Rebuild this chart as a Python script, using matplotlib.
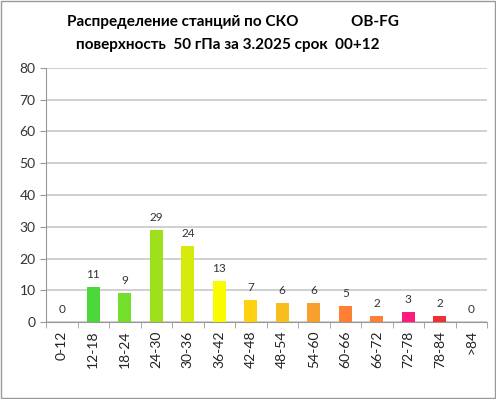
import matplotlib.pyplot as plt
import numpy as np

# DATA
categories = ["0-12", "12-18", "18-24", "24-30", "30-36", "36-42", "42-48", "48-54",
              "54-60", "60-66", "66-72", "72-78", "78-84", ">84"]
counts = [0, 11, 9, 29, 24, 13, 7, 6, 6, 5, 2, 3, 2, 0]
bar_colors = ["#4CD83A", "#4CD83A", "#74DE2C", "#9EE01C", "#D6EA0C", "#FAFA00", "#FFD010",
              "#F8BE1E", "#F8A02C", "#FF8034", "#FF8034", "#FF1A80", "#F03030", "#F03030"]

plt.rcParams['font.family'] = ['Lato', 'DejaVu Sans']

fig = plt.figure(figsize=(4.96, 3.99), dpi=100)
ax = fig.add_axes([46 / 496, 77 / 399, 441 / 496, 254 / 399])

x = np.arange(len(categories))
ax.bar(x, counts, width=0.42, color=bar_colors, zorder=3)

for xi, v in zip(x, counts):
    ax.text(xi, v + 2.2, str(v), ha="center", va="bottom", fontsize=8.5, color="#333333")

ax.set_xlim(-0.5, len(categories) - 0.5)
ax.set_ylim(0, 80)
ax.set_yticks(range(0, 81, 10))
ax.tick_params(axis="y", labelsize=10, colors="#333333", length=4, color="#999999")
ax.set_xticks(x)
ax.set_xticklabels(categories, rotation=90, fontsize=10, color="#222222")
ax.tick_params(axis="x", length=0, pad=6)
ax.set_xticks(np.arange(-0.5, len(categories), 1), minor=True)
ax.tick_params(axis="x", which="minor", length=4, color="#999999")

ax.grid(axis="y", color="#C8C8C8", linewidth=1.2, zorder=0)
for s in ["top", "right"]:
    ax.spines[s].set_visible(False)
ax.spines["left"].set_color("#999999")
ax.spines["bottom"].set_color("#999999")

fig.text(0.47, 0.945, "Распределение станций по СКО              OB-FG",
         ha="center", va="center", fontsize=11, fontweight="bold")
fig.text(0.46, 0.888, "поверхность  50 гПа за 3.2025 срок  00+12",
         ha="center", va="center", fontsize=11, fontweight="bold")

border = plt.Rectangle((0.002, 0.002), 0.996, 0.996, transform=fig.transFigure,
                       fill=False, edgecolor="#999999", linewidth=1)
fig.patches.append(border)

fig.savefig("out.png", dpi=100)
